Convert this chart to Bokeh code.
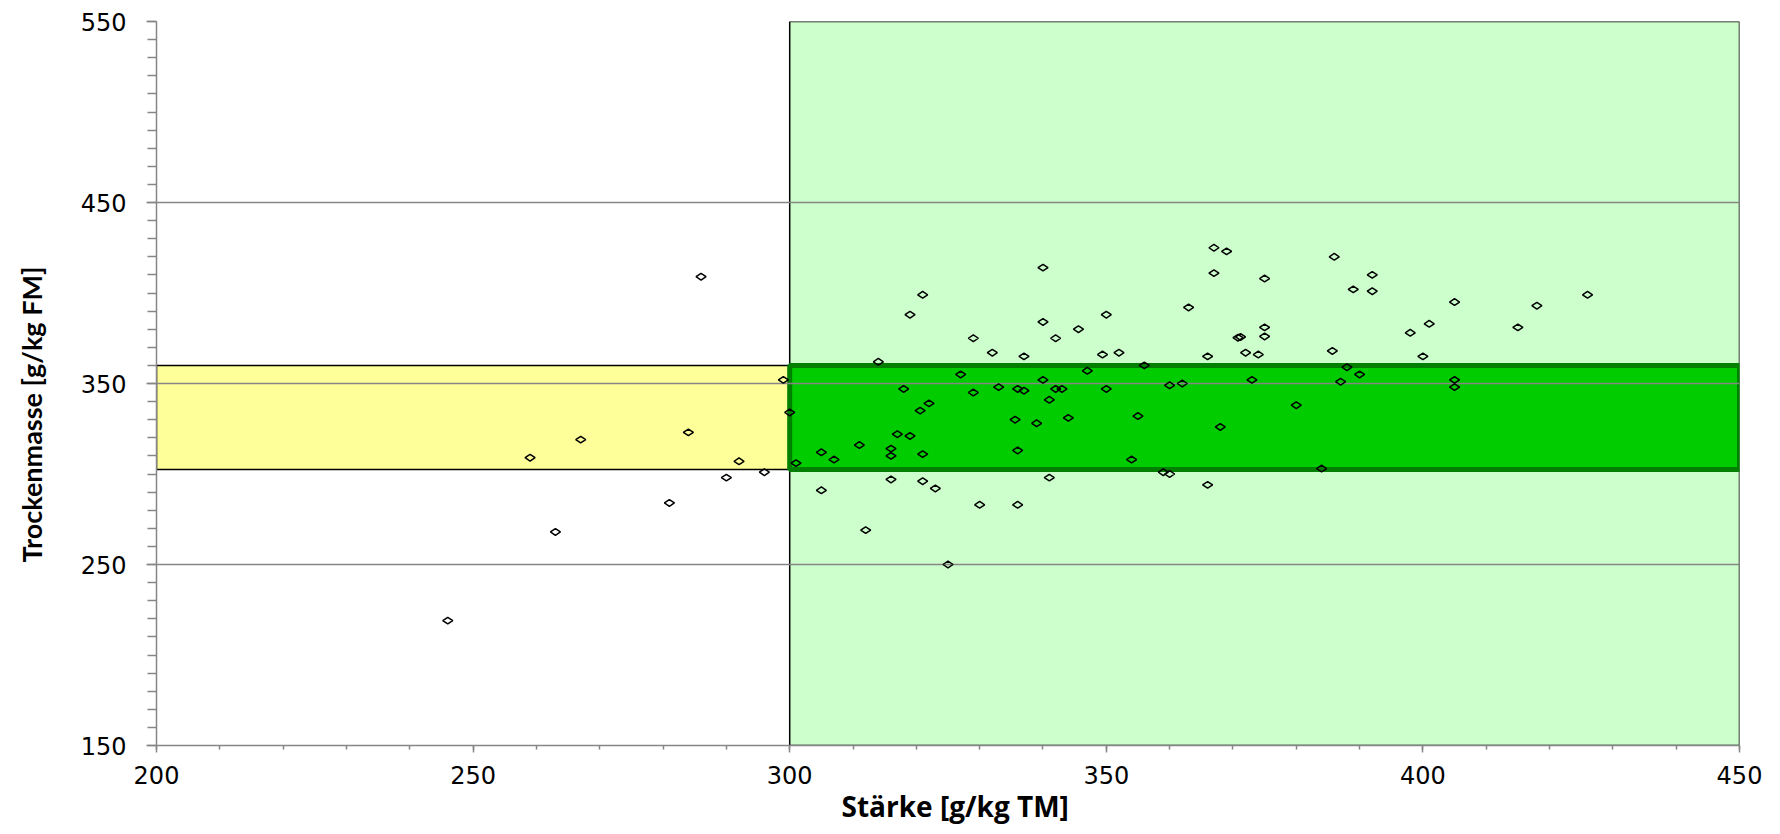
import math
from bokeh.plotting import figure
from bokeh.models import FixedTicker, Title, Range1d
from bokeh.embed import file_html
from bokeh.resources import INLINE

# ---- data ----
staerke = [
    246, 259, 263, 267, 281, 284, 286, 290, 292, 296, 299, 300, 301,
    305, 305, 307, 311, 312, 314, 316, 316, 316, 317, 318, 319, 319, 321,
    320.6, 321, 321, 322, 323, 325, 327, 329, 329, 330, 332, 333, 335.6,
    336, 336, 336, 337, 337, 339, 340, 340, 340, 341, 341, 342, 342, 343,
    344, 345.6, 347, 349.4, 350, 350, 352, 354, 355, 356, 359, 360, 360,
    362, 363, 366, 366, 367, 367, 368, 369, 370.8, 371.2, 372, 373, 374,
    375, 375, 375, 380, 384, 386, 385.7, 387, 388, 389, 390, 392, 392, 398,
    400, 401, 405, 405, 405, 415, 418, 426,
]
trockenmasse = [
    219, 309, 268, 319, 284, 323, 409, 298, 307, 301, 352, 334, 306,
    312, 291, 308, 316, 269, 362, 314, 310, 297, 322, 347, 388, 321, 399,
    335, 311, 296, 339, 292, 250, 355, 375, 345, 283, 367, 348, 330,
    347, 313, 283, 365, 346, 328, 414, 384, 352, 341, 298, 375, 347, 347,
    331, 380, 357, 366, 388, 347, 367, 308, 332, 360, 301, 300, 349,
    350, 392, 365, 294, 425, 411, 326, 423, 375.3, 375.7, 367, 352, 366,
    408, 381, 376, 338, 303, 420, 368, 351, 359, 402, 355, 410, 401, 378,
    365, 383, 395, 352, 348, 381, 393, 399,
]

x_limits = [200, 450]
y_limits = [150, 550]
x_major = [200, 250, 300, 350, 400, 450]
x_minor = list(range(200, 451, 10))
y_major = [150, 250, 350, 450, 550]
y_minor = list(range(150, 551, 10))

# target zones
zone_x = [300, 450]          # Stärke target range
zone_y = [150, 550]
band_y = [302.5, 360]        # Trockenmasse target band
low_x = [200, 300]

p = figure(
    frame_width=1583, frame_height=724,
    min_border_left=156, min_border_right=41,
    min_border_top=21, min_border_bottom=89,
    x_range=Range1d(*x_limits), y_range=Range1d(*y_limits),
    output_backend="svg", toolbar_location=None,
)
p.outline_line_color = None
p.background_fill_color = "white"
p.border_fill_color = "white"

p.quad(left=[zone_x[0]], right=[zone_x[1]], bottom=[zone_y[0]], top=[zone_y[1]],
       fill_color="#CCFFCC", line_color="black", line_width=1.5, level="image")
p.quad(left=[low_x[0]], right=[low_x[1]], bottom=[band_y[0]], top=[band_y[1]],
       fill_color="#FFFF99", line_color="black", line_width=1.5, level="image")
p.quad(left=[zone_x[0]], right=[zone_x[1]], bottom=[band_y[0]], top=[band_y[1]],
       fill_color="#00CC00", line_color="#007F00", line_width=5, level="image")

p.scatter(staerke, trockenmasse, marker="diamond", size=10, angle=math.pi / 2,
          fill_color=None, line_color="black", line_width=1.5)

axis_gray = "#868686"
p.xaxis.ticker = FixedTicker(ticks=x_major, minor_ticks=x_minor)
p.yaxis.ticker = FixedTicker(ticks=y_major, minor_ticks=y_minor)
p.xgrid.visible = False
p.ygrid.grid_line_color = axis_gray
p.ygrid.grid_line_width = 1.5

for ax in (p.xaxis[0], p.yaxis[0]):
    ax.axis_line_color = axis_gray
    ax.axis_line_width = 1.5
    ax.major_tick_line_color = axis_gray
    ax.minor_tick_line_color = axis_gray
    ax.major_tick_line_width = 1.5
    ax.minor_tick_line_width = 1.5
    ax.major_tick_in = 0
    ax.minor_tick_in = 0
    ax.major_label_text_font = "DejaVu Sans"
    ax.major_label_text_font_size = "24px"
    ax.major_label_text_color = "black"

p.yaxis.major_tick_out = 10
p.yaxis.minor_tick_out = 9
p.yaxis.major_label_standoff = 20
p.yaxis.axis_label = " "
p.yaxis.axis_label_text_font_size = "1px"
p.yaxis.axis_label_standoff = 26

p.xaxis.major_tick_out = 7
p.xaxis.minor_tick_out = 4
p.xaxis.major_label_standoff = 13

ytitle = Title(text="Trockenmasse [g/kg FM]", align="left", offset=183,
               vertical_align="bottom", standoff=0,
               text_font="Lato", text_font_style="bold", text_font_size="27px",
               text_color="black")
p.add_layout(ytitle, "left")

xtitle = Title(text="Stärke [g/kg TM]", align="left", offset=685,
               vertical_align="top", standoff=0,
               text_font="Open Sans", text_font_style="bold", text_font_size="28px",
               text_color="black")
p.add_layout(xtitle, "below")

open("out.html", "w").write(file_html(p, INLINE))
